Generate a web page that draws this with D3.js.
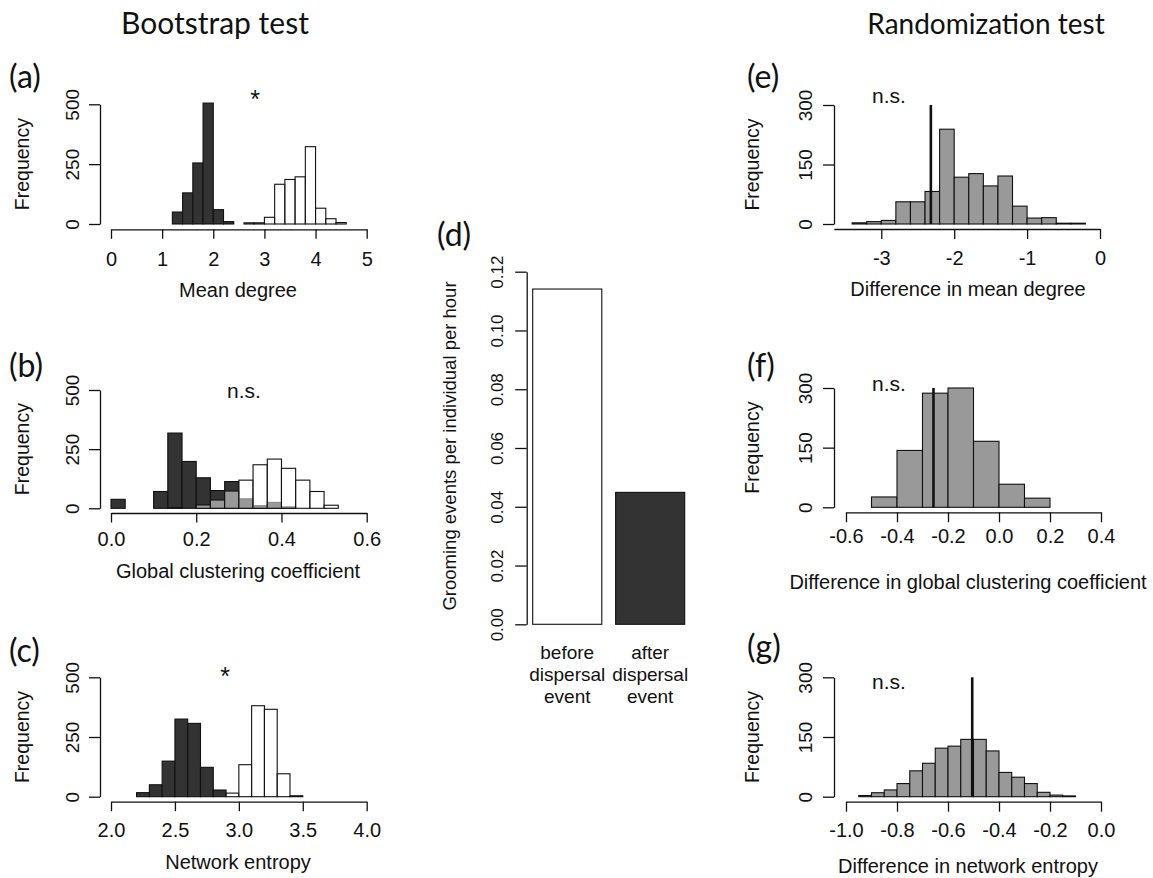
<!DOCTYPE html>
<html><head><meta charset="utf-8">
<script src="https://cdn.jsdelivr.net/npm/d3@7"></script>
<style>
body{margin:0;background:#fff}
svg{display:block}
</style></head>
<body><svg id="c" width="1153" height="878"></svg>
<script>
// ---------------- DATA ----------------
const headerLeft = "Bootstrap test";
const headerRight = "Randomization test";

// (a) Mean degree: bootstrap distributions
const degBreaks = [0,0.2,0.4,0.6,0.8,1.0,1.2,1.4,1.6,1.8,2.0,2.2,2.4,2.6,2.8,3.0,3.2,3.4,3.6,3.8,4.0,4.2,4.4,4.6,4.8,5.0];
const degAfter  = [0,0,0,0,0,0,50,130,255,505,60,10,0,0,0,0,0,0,0,0,0,0,0,0,0];
const degBefore = [0,0,0,0,0,0,0,0,0,0,0,0,0,5,5,28,166,186,197,323,66,22,6,0,0];
const degTicks = [0,1,2,3,4,5];

// (b) Global clustering coefficient
const gccBreaks = [0,0.0333,0.0667,0.1,0.1333,0.1667,0.2,0.2333,0.2667,0.3,0.3333,0.3667,0.4,0.4333,0.4667,0.5,0.5333,0.5667,0.6,0.6333];
const gccAfter  = [38,0,0,71,318,198,129,75,113,40,11,25,6,0,0,0,0,0,0];
const gccBefore = [0,0,0,0,3,0,14,35,73,119,184,208,169,119,71,13,0,0,0];
const gccTicks = [0,0.2,0.4,0.6];

// (c) Network entropy
const entBreaks = [1.8,1.9,2.0,2.1,2.2,2.3,2.4,2.5,2.6,2.7,2.8,2.9,3.0,3.1,3.2,3.3,3.4,3.5,3.6,3.7,3.8,3.9,4.0];
const entAfter  = [0,0,0,0,17,50,149,325,307,123,28,0,0,0,0,0,0,0,0,0,0,0];
const entBefore = [0,0,0,0,0,0,0,0,0,0,0,15,134,381,366,96,4,0,0,0,0,0];
const entTicks = [2.0,2.5,3.0,3.5,4.0];

const freqTicksLeft = [0,250,500];
const freqTicksRight = [0,150,300];

// (d) Grooming rate
const groomCats = ["before\ndispersal\nevent", "after\ndispersal\nevent"];
const groomRates = [0.1141, 0.0449];
const groomTicks = [0,0.02,0.04,0.06,0.08,0.10,0.12];

// (e) Difference in mean degree (randomization)
const dmdBreaks = [-3.4,-3.2,-3.0,-2.8,-2.6,-2.4,-2.2,-2.0,-1.8,-1.6,-1.4,-1.2,-1.0,-0.8,-0.6,-0.4,-0.2];
const dmdCounts = [3,6,9,56,56,82,239,118,127,96,121,45,15,16,2,2];
const dmdObserved = -2.32;
const dmdTicks = [-3,-2,-1,0];

// (f) Difference in global clustering coefficient
const dgccBreaks = [-0.6,-0.5,-0.4,-0.3,-0.2,-0.1,0.0,0.1,0.2,0.3];
const dgccCounts = [0,26,143,287,300,166,58,23,0];
const dgccObserved = -0.257;
const dgccTicks = [-0.6,-0.4,-0.2,0.0,0.2,0.4];

// (g) Difference in network entropy
const dentBreaks = [-0.95,-0.9,-0.85,-0.8,-0.75,-0.7,-0.65,-0.6,-0.55,-0.5,-0.45,-0.4,-0.35,-0.3,-0.25,-0.2,-0.15,-0.1];
const dentCounts = [3,10,17,33,65,84,122,127,144,144,115,61,49,33,11,4,2];
const dentObserved = -0.505;
const dentTicks = [-1.0,-0.8,-0.6,-0.4,-0.2,0.0];

// ---------------- DRAWING ----------------
const FONT = '"Liberation Sans", Arial, Helvetica, sans-serif';
const HFONT = 'Lato, "Open Sans", sans-serif';
const INK = "#111";
const DARK = "#333333";
const GREY = "#999999";
const svg = d3.select("#c");

const f1 = d => d.toFixed(1);
const f2 = d => d.toFixed(2);
const f0 = d => String(d);

function text(x, y, s, opts = {}) {
  return svg.append("text").attr("x", x).attr("y", y).text(s)
    .attr("font-family", opts.family || FONT)
    .attr("font-size", opts.size || 19)
    .attr("text-anchor", opts.anchor || "middle")
    .attr("fill", INK);
}

function hist(x, y, breaks, counts, fill, opacity) {
  const bins = counts.map((c, i) => ({x0: breaks[i], x1: breaks[i + 1], c}));
  svg.append("g").selectAll("rect").data(bins).join("rect")
    .attr("x", d => x(d.x0)).attr("width", d => x(d.x1) - x(d.x0))
    .attr("y", d => y(d.c)).attr("height", d => y(0) - y(d.c))
    .attr("fill", fill).attr("fill-opacity", opacity)
    .attr("stroke", INK).attr("stroke-width", 1.1);
}

function xAxis(x, ticks, fmt, axisY, tickLen, labelBase, fs) {
  const g = svg.append("g").attr("transform", `translate(0,${axisY})`)
    .call(d3.axisBottom(x).tickValues(ticks).tickFormat(fmt).tickSize(tickLen).tickSizeOuter(0));
  g.attr("font-family", FONT).attr("font-size", fs);
  g.select(".domain").attr("stroke", INK).attr("stroke-width", 1.3);
  g.selectAll(".tick line").attr("stroke", INK).attr("stroke-width", 1.3);
  g.selectAll(".tick text").attr("y", labelBase - axisY).attr("dy", 0).attr("fill", INK);
}

function yAxis(y, ticks, fmt, axisX, tickLen, labelCenterX, fs) {
  const g = svg.append("g").attr("transform", `translate(${axisX},0)`)
    .call(d3.axisLeft(y).tickValues(ticks).tickFormat(fmt).tickSize(tickLen).tickSizeOuter(0));
  g.attr("font-family", FONT).attr("font-size", fs);
  g.select(".domain").attr("stroke", INK).attr("stroke-width", 1.3);
  g.selectAll(".tick line").attr("stroke", INK).attr("stroke-width", 1.3);
  const base = labelCenterX + 0.716 * fs / 2 - axisX;
  g.selectAll(".tick text").attr("x", 0).attr("y", 0).attr("dy", 0)
    .attr("text-anchor", "middle").attr("fill", INK)
    .attr("transform", `translate(${base},0) rotate(-90)`);
}

function vLabel(xBase, yCenter, s, fs) {
  svg.append("text").attr("transform", `translate(${xBase},${yCenter}) rotate(-90)`)
    .attr("text-anchor", "middle").attr("font-family", FONT).attr("font-size", fs)
    .attr("fill", INK).text(s);
}

function panelLetter(x, y, s) {
  text(x, y, s, {family: HFONT, size: 32, anchor: "start"});
}

// headers
text(215, 34, headerLeft, {family: HFONT, size: 30});
text(986, 34, headerRight, {family: HFONT, size: 28});

// ---- left column: bootstrap histograms ----
const leftPanels = [
  {letter: "(a)", lb: 88, breaks: degBreaks, after: degAfter, before: degBefore, dom: [0, 5], ticks: degTicks, fmt: f0,
   y0: 224, y1: 104.3, axisY: 229.3, tickBase: 266, title: "Mean degree", titleBase: 297, mark: "*", markX: 255, markY: 108, markSize: 25},
  {letter: "(b)", lb: 377, breaks: gccBreaks, after: gccAfter, before: gccBefore, dom: [0, 0.6], ticks: gccTicks, fmt: f1,
   y0: 508.3, y1: 390, axisY: 513, tickBase: 546, title: "Global clustering coefficient", titleBase: 578, mark: "n.s.", markX: 244, markY: 398, markSize: 21},
  {letter: "(c)", lb: 662, breaks: entBreaks, after: entAfter, before: entBefore, dom: [2, 4], ticks: entTicks, fmt: f1,
   y0: 796.7, y1: 677.3, axisY: 801.7, tickBase: 837, title: "Network entropy", titleBase: 869, mark: "*", markX: 225, markY: 685, markSize: 25}
];

leftPanels.forEach(p => {
  const x = d3.scaleLinear().domain(p.dom).range([111, 366.7]);
  const y = d3.scaleLinear().domain([0, 500]).range([p.y0, p.y1]);
  hist(x, y, p.breaks, p.after, DARK, 1);
  hist(x, y, p.breaks, p.before, "#ffffff", 0.5);
  xAxis(x, p.ticks, p.fmt, p.axisY, 9.5, p.tickBase, 20);
  yAxis(y, freqTicksLeft, f0, 100, 11, 71.7, 19);
  vLabel(29, (p.y0 + p.y1) / 2, "Frequency", 19.5);
  text(238, p.titleBase, p.title, {size: 20});
  text(p.markX, p.markY, p.mark, {size: p.markSize});
  panelLetter(9, p.lb, p.letter);
});

// ---- middle: bar chart (d) ----
{
  const xd = d3.scaleBand().domain(groomCats).range([532.7, 684.7]).paddingInner(1 / 6).paddingOuter(0);
  const yd = d3.scaleLinear().domain([0, 0.12]).range([624.3, 271.7]);
  const fills = ["#ffffff", DARK];
  svg.append("g").selectAll("rect").data(groomCats).join("rect")
    .attr("x", d => xd(d)).attr("width", xd.bandwidth())
    .attr("y", (d, i) => yd(groomRates[i])).attr("height", (d, i) => yd(0) - yd(groomRates[i]))
    .attr("fill", (d, i) => fills[i]).attr("stroke", INK).attr("stroke-width", 1.1);
  yAxis(yd, groomTicks, f2, 526.7, 11.5, 497, 17);
  vLabel(456, 446, "Grooming events per individual per hour", 18.5);
  groomCats.forEach(c => {
    const t = svg.append("text").attr("text-anchor", "middle").attr("font-family", FONT)
      .attr("font-size", 19).attr("fill", INK);
    c.split("\n").forEach((line, j) => {
      t.append("tspan").attr("x", xd(c) + xd.bandwidth() / 2).attr("y", 659 + j * 22).text(line);
    });
  });
  panelLetter(437, 246, "(d)");
}

// ---- right column: randomization histograms ----
const rightPanels = [
  {letter: "(e)", lb: 88, breaks: dmdBreaks, counts: dmdCounts, obs: dmdObserved, dom: [-3.65, 0], range: [833.9, 1100], ticks: dmdTicks, fmt: f0,
   y0: 224, y1: 105, axisY: 229, tickBase: 265, title: "Difference in mean degree", titleBase: 296, nsBase: 103},
  {letter: "(f)", lb: 377, breaks: dgccBreaks, counts: dgccCounts, obs: dgccObserved, dom: [-0.6, 0.4], range: [846, 1101], ticks: dgccTicks, fmt: f1,
   y0: 507.3, y1: 388, axisY: 512.3, tickBase: 543, title: "Difference in global clustering coefficient", titleBase: 589, nsBase: 391},
  {letter: "(g)", lb: 658, breaks: dentBreaks, counts: dentCounts, obs: dentObserved, dom: [-1, 0], range: [846, 1101], ticks: dentTicks, fmt: f1,
   y0: 796.7, y1: 677.3, axisY: 801.7, tickBase: 837, title: "Difference in network entropy", titleBase: 873, nsBase: 689}
];

rightPanels.forEach(p => {
  const x = d3.scaleLinear().domain(p.dom).range(p.range);
  const y = d3.scaleLinear().domain([0, 300]).range([p.y0, p.y1]);
  hist(x, y, p.breaks, p.counts, GREY, 1);
  svg.append("line").attr("x1", x(p.obs)).attr("x2", x(p.obs)).attr("y1", y(0)).attr("y2", y(300))
    .attr("stroke", INK).attr("stroke-width", 2.6);
  xAxis(x, p.ticks, p.fmt, p.axisY, 10, p.tickBase, 20);
  yAxis(y, freqTicksRight, f0, 834, 11, 805, 19);
  vLabel(759, (p.y0 + p.y1) / 2, "Frequency", 19.5);
  text(968, p.titleBase, p.title, {size: 20});
  text(889, p.nsBase, "n.s.", {size: 21});
  panelLetter(747, p.lb, p.letter);
});
</script>
</body></html>
